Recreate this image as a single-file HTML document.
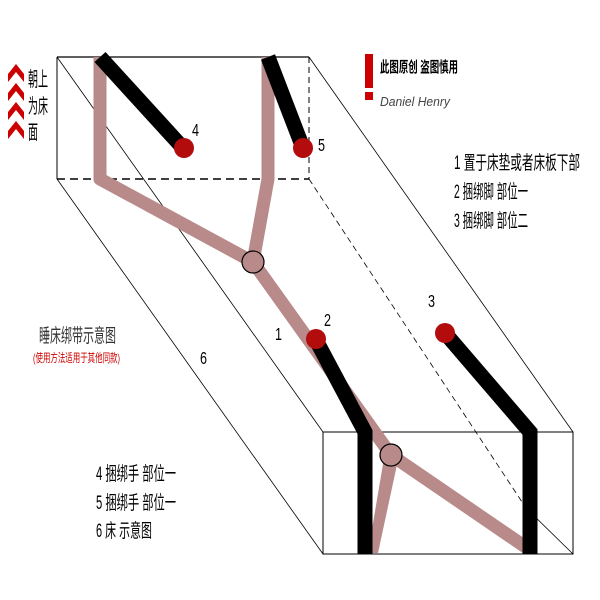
<!DOCTYPE html>
<html><head><meta charset="utf-8"><style>
body{margin:0;background:#fff;}
svg{display:block}
text{font-family:"Liberation Sans","Noto Sans CJK SC",sans-serif;}
</style></head><body>
<svg width="600" height="600" viewBox="0 0 600 600" xmlns="http://www.w3.org/2000/svg">
<line x1="57" y1="57" x2="309" y2="57" stroke="#000" stroke-width="1.2"/>
<line x1="57" y1="57" x2="57" y2="179" stroke="#000" stroke-width="1"/>
<line x1="309" y1="57" x2="309" y2="179" stroke="#000" stroke-width="1" stroke-dasharray="6,4"/>
<line x1="57" y1="179" x2="309" y2="179" stroke="#000" stroke-width="1.5" stroke-dasharray="8,5"/>
<line x1="57" y1="57" x2="323" y2="432" stroke="#000" stroke-width="0.8"/>
<line x1="57" y1="179" x2="323" y2="554" stroke="#000" stroke-width="0.8"/>
<line x1="309" y1="57" x2="573" y2="432" stroke="#000" stroke-width="0.8"/>
<line x1="309" y1="179" x2="526" y2="508" stroke="#000" stroke-width="0.8" stroke-dasharray="6,4"/>
<line x1="526" y1="508" x2="573" y2="554" stroke="#000" stroke-width="0.8"/>
<rect x="323" y="432" width="250" height="122" fill="none" stroke="#000" stroke-width="1"/>
<g stroke="#b98a8a" stroke-width="13" fill="none" stroke-linejoin="round">
<polyline points="100,57 100,179 253,262"/>
<polyline points="268,57 268,179 253,262"/>
<polyline points="253,262 391,455 527,548"/>
</g>
<polygon points="384,458 398,460 378,553 368,553" fill="#b98a8a"/>
<circle cx="253" cy="262" r="11" fill="#b98a8a" stroke="#000" stroke-width="1.2"/>
<circle cx="391" cy="455" r="11" fill="#b98a8a" stroke="#000" stroke-width="1.2"/>
<g stroke="#000" stroke-width="15" fill="none">
<line x1="100" y1="57" x2="183" y2="148"/>
<line x1="268" y1="57" x2="303" y2="148"/>
<polyline points="316,340 365,432 365,554"/>
<polyline points="445,333 530,432 530,554"/>
</g>
<g fill="#b30c0c">
<circle cx="184" cy="148" r="10"/>
<circle cx="303" cy="148" r="10"/>
<circle cx="316" cy="339" r="10"/>
<circle cx="445" cy="333" r="10"/>
</g>
<g font-size="18" fill="#000">
<text x="192" y="136" transform="translate(192,0) scale(0.7,1) translate(-192,0)">4</text>
<text x="318" y="151" transform="translate(318,0) scale(0.7,1) translate(-318,0)">5</text>
<text x="324" y="326" transform="translate(324,0) scale(0.7,1) translate(-324,0)">2</text>
<text x="275" y="340" transform="translate(275,0) scale(0.7,1) translate(-275,0)">1</text>
<text x="428" y="307" transform="translate(428,0) scale(0.7,1) translate(-428,0)">3</text>
<text x="200" y="364" transform="translate(200,0) scale(0.7,1) translate(-200,0)">6</text>
</g>
<g fill="#c00">
<polygon points="8,74 16,64 24,74 24,82 16,72 8,82"/>
<polygon points="8,93 16,83 24,93 24,101 16,91 8,101"/>
<polygon points="8,112 16,102 24,112 24,120 16,110 8,120"/>
<polygon points="8,131 16,121 24,131 24,139 16,129 8,139"/>
</g>
<g font-size="20" fill="#000">
<text x="28" y="86" textLength="20" lengthAdjust="spacingAndGlyphs">朝上</text>
<text x="28" y="113" textLength="20" lengthAdjust="spacingAndGlyphs">为床</text>
<text x="28" y="139" textLength="10" lengthAdjust="spacingAndGlyphs">面</text>
</g>
<rect x="365" y="54" width="8" height="34" fill="#c00"/>
<rect x="365" y="92" width="8" height="8" fill="#c00"/>
<text x="380" y="72" font-size="15" font-weight="bold" fill="#000" textLength="78" lengthAdjust="spacingAndGlyphs">此图原创 盗图慎用</text>
<text x="380" y="106" font-size="13" font-style="italic" font-family="Liberation Serif,serif" fill="#444" textLength="70" lengthAdjust="spacingAndGlyphs">Daniel Henry</text>
<g font-size="19" fill="#000">
<text x="454" y="169" textLength="126" lengthAdjust="spacingAndGlyphs">1 置于床垫或者床板下部</text>
<text x="454" y="198" textLength="74" lengthAdjust="spacingAndGlyphs">2 捆绑脚 部位一</text>
<text x="454" y="227" textLength="74" lengthAdjust="spacingAndGlyphs">3 捆绑脚 部位二</text>
<text x="96" y="480" textLength="80" lengthAdjust="spacingAndGlyphs">4 捆绑手 部位一</text>
<text x="96" y="509" textLength="80" lengthAdjust="spacingAndGlyphs">5 捆绑手 部位一</text>
<text x="96" y="537" textLength="56" lengthAdjust="spacingAndGlyphs">6 床 示意图</text>
</g>
<text x="39" y="342" font-size="19" fill="#333" textLength="77" lengthAdjust="spacingAndGlyphs">睡床绑带示意图</text>
<text x="33" y="362" font-size="12" fill="#c00" textLength="87" lengthAdjust="spacingAndGlyphs">(使用方法适用于其他同款)</text>
</svg>
</body></html>
